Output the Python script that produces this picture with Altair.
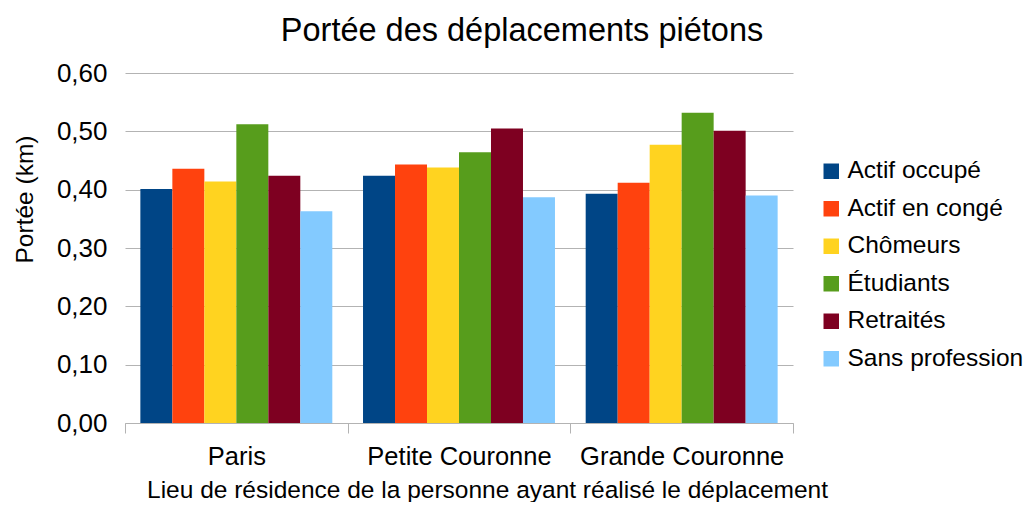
import altair as alt
import pandas as pd

title_text = "Portée des déplacements piétons"
categories = ["Paris", "Petite Couronne", "Grande Couronne"]
groups = ["Actif occupé", "Actif en congé", "Chômeurs", "Étudiants", "Retraités", "Sans profession"]
colors = ["#004586", "#ff420e", "#ffd320", "#579d1c", "#7e0021", "#83caff"]

paris = [0.401, 0.436, 0.414, 0.512, 0.424, 0.363]
petite = [0.424, 0.443, 0.438, 0.464, 0.505, 0.387]
grande = [0.393, 0.412, 0.477, 0.532, 0.501, 0.390]

y_ticks = [0.0, 0.1, 0.2, 0.3, 0.4, 0.5, 0.6]

rows = []
for cat, vals in zip(categories, [paris, petite, grande]):
    for g, v in zip(groups, vals):
        rows.append({"lieu": cat, "groupe": g, "portee": v})
df = pd.DataFrame(rows)

FONT = "Liberation Sans"

bars = alt.Chart(df).mark_bar().encode(
    x=alt.X("lieu:N", sort=categories,
            scale=alt.Scale(paddingInner=0, paddingOuter=0),
            axis=alt.Axis(title="Lieu de résidence de la personne ayant réalisé le déplacement",
                          labelAngle=0, labelFontSize=25.5, labelFont=FONT, labelColor="black",
                          labelPadding=11, labelLimit=0, tickBand="extent", tickSize=10,
                          tickColor="#b3b3b3", domainColor="#b3b3b3", grid=False,
                          titleFontSize=24.5, titleFont=FONT, titleFontWeight="normal",
                          titleColor="black", titleX=362, titleY=74, titleBaseline="alphabetic")),
    xOffset=alt.XOffset("groupe:N", sort=groups,
                        scale=alt.Scale(paddingInner=0, paddingOuter=0.48)),
    y=alt.Y("portee:Q",
            scale=alt.Scale(domain=[0, 0.6], nice=False, zero=True),
            axis=alt.Axis(title="Portée (km)", values=y_ticks,
                          labelExpr="replace(format(datum.value, '.2f'), '.', ',')",
                          labelFontSize=26, labelFont=FONT, labelColor="black", labelPadding=18,
                          ticks=False, domain=False, grid=True, gridColor="#b3b3b3",
                          titleFontSize=24.5, titleFont=FONT, titleFontWeight="normal",
                          titleColor="black", titleAngle=270, titleX=-93, titleY=126,
                          titleAlign="center", titleBaseline="alphabetic")),
    color=alt.Color("groupe:N", sort=groups,
                    scale=alt.Scale(domain=groups, range=colors),
                    legend=alt.Legend(title=None, orient="none", legendX=694, legendY=86,
                                      labelFontSize=24.5, labelFont=FONT, labelColor="black",
                                      labelLimit=0, symbolType="square", symbolSize=240,
                                      symbolStrokeWidth=0, rowPadding=12.5, labelOffset=4)),
)

title = alt.Chart(pd.DataFrame({"t": [title_text]})).mark_text(
    font=FONT, fontSize=32.5, color="black", align="center", baseline="alphabetic"
).encode(text="t:N", x=alt.value(397), y=alt.value(-32))

chart = alt.layer(bars, title).properties(
    width=668,
    height=350,
    autosize=alt.AutoSizeParams(type="none"),
    padding={"left": 117, "top": 65, "right": 230, "bottom": 79},
).configure_view(stroke=None)

chart.save("out.html", embed_options={"renderer": "svg", "actions": False})
